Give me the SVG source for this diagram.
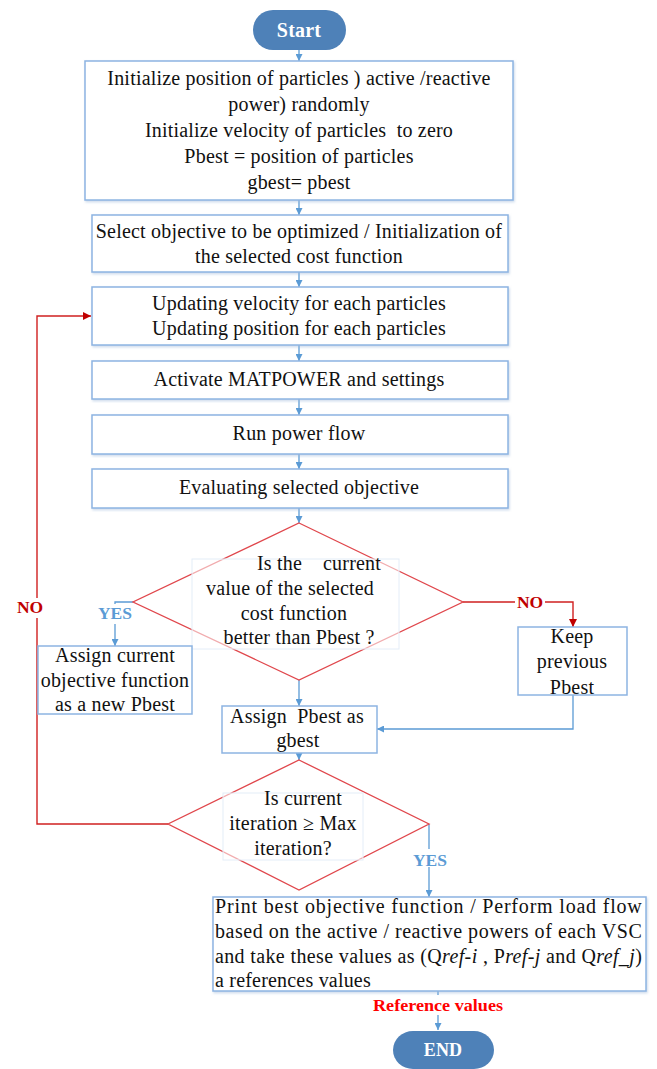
<svg xmlns="http://www.w3.org/2000/svg" width="657" height="1069" viewBox="0 0 657 1069">
<style>
text{font-family:"Liberation Serif","Times New Roman",serif;font-size:20px;fill:#111;letter-spacing:0.2px}
.c{text-anchor:middle}
.box{fill:#fff;stroke:#8DB4E2;stroke-width:1.5}
.tbox{fill:#fff;fill-opacity:0.55;stroke:#E4EDF8;stroke-width:1}
.dia{fill:#fff;stroke:#E0474C;stroke-width:1.3}
.term{fill:#4E81B8}
.tt{fill:#fff;font-weight:bold;font-size:20px}
.bl{fill:none;stroke:#5B9BD5;stroke-width:1.3}
.rd{fill:none;stroke:#D02020;stroke-width:1.4}
.lbY{fill:#5B9BD5;font-weight:bold;font-size:17.5px;letter-spacing:0}
.lbN{fill:#C00000;font-weight:bold;font-size:17.5px;letter-spacing:0}
.lbR{fill:#FF0000;font-weight:bold;font-size:17px;letter-spacing:0}
</style>
<defs>
<marker id="ab" viewBox="0 0 10 10" refX="10" refY="5" markerWidth="7" markerHeight="7" orient="auto" markerUnits="userSpaceOnUse"><path d="M0,0L10,5L0,10z" fill="#5B9BD5"/></marker>
<marker id="ar" viewBox="0 0 10 10" refX="10" refY="5" markerWidth="8" markerHeight="8" orient="auto" markerUnits="userSpaceOnUse"><path d="M0,0L10,5L0,10z" fill="#C00000"/></marker>
<filter id="sh" x="-5%" y="-5%" width="110%" height="115%"><feDropShadow dx="1" dy="1.5" stdDeviation="1.2" flood-color="#9DB8D8" flood-opacity="0.5"/></filter>
</defs>

<g id="connectors">
<line class="bl" x1="299" y1="50" x2="299" y2="61" marker-end="url(#ab)"/>
<line class="bl" x1="299" y1="200" x2="299" y2="215" marker-end="url(#ab)"/>
<line class="bl" x1="299" y1="272" x2="299" y2="287" marker-end="url(#ab)"/>
<line class="bl" x1="299" y1="345" x2="299" y2="361" marker-end="url(#ab)"/>
<line class="bl" x1="299" y1="399" x2="299" y2="415" marker-end="url(#ab)"/>
<line class="bl" x1="299" y1="454" x2="299" y2="469" marker-end="url(#ab)"/>
<line class="bl" x1="299" y1="508" x2="299" y2="523" marker-end="url(#ab)"/>
<line class="bl" x1="299" y1="680" x2="299" y2="706" marker-end="url(#ab)"/>
<line class="bl" x1="299" y1="753" x2="299" y2="760" marker-end="url(#ab)"/>
<polyline class="bl" points="133,602 115,602 115,646" marker-end="url(#ab)"/>
<polyline class="rd" points="463,602 573,602 573,627" marker-end="url(#ar)"/>
<polyline class="bl" points="573,695 573,729 377,729" marker-end="url(#ab)"/>
<polyline class="rd" points="168,824 37,824 37,316 91,316" marker-end="url(#ar)"/>
<polyline class="bl" points="429,824 429,897" marker-end="url(#ab)"/>
<line class="bl" x1="438" y1="991" x2="438" y2="1030" marker-end="url(#ab)"/>
<rect x="95" y="604" width="40" height="20" fill="#fff"/>
<text class="lbY c" x="115" y="619">YES</text>
<rect x="515" y="593" width="30" height="18" fill="#fff"/>
<text class="lbN c" x="530" y="608">NO</text>
<rect x="14" y="598" width="30" height="20" fill="#fff"/>
<text class="lbN c" x="30" y="613">NO</text>
<rect x="410" y="849" width="40" height="18" fill="#fff"/>
<text class="lbY c" x="430" y="866">YES</text>
<rect x="370" y="995" width="136" height="20" fill="#fff"/>
<text class="lbR c" x="438" y="1011" textLength="130" lengthAdjust="spacingAndGlyphs">Reference values</text>
</g>

<g id="start">
<rect class="term" x="253" y="10" width="93" height="40" rx="20" ry="20"/>
<text class="tt c" x="299" y="37">Start</text>
</g>

<g id="init">
<rect class="box" x="85" y="61" width="428" height="139" filter="url(#sh)"/>
<text class="c" x="299" y="85">Initialize position of particles ) active /reactive</text>
<text class="c" x="299" y="111">power) randomly</text>
<text class="c" x="299" y="137" xml:space="preserve">Initialize velocity of particles  to zero</text>
<text class="c" x="299" y="163">Pbest = position of particles</text>
<text class="c" x="299" y="189">gbest= pbest</text>
</g>

<g id="select">
<rect class="box" x="92" y="215" width="416" height="57" filter="url(#sh)"/>
<text class="c" x="299" y="238">Select objective to be optimized / Initialization of</text>
<text class="c" x="299" y="263">the selected cost function</text>
</g>

<g id="update">
<rect class="box" x="92" y="287" width="416" height="58" filter="url(#sh)"/>
<text class="c" x="299" y="310">Updating velocity for each particles</text>
<text class="c" x="299" y="335">Updating position for each particles</text>
</g>

<g id="matpower">
<rect class="box" x="92" y="361" width="416" height="38" filter="url(#sh)"/>
<text class="c" x="299" y="386">Activate MATPOWER and settings</text>
</g>

<g id="powerflow">
<rect class="box" x="92" y="415" width="416" height="39" filter="url(#sh)"/>
<text class="c" x="299" y="440">Run power flow</text>
</g>

<g id="evaluate">
<rect class="box" x="92" y="469" width="416" height="39" filter="url(#sh)"/>
<text class="c" x="299" y="494">Evaluating selected objective</text>
</g>

<g id="decision1">
<polygon class="dia" points="299,523 463,602 299,680 133,602"/>
<rect class="tbox" x="192" y="559" width="207" height="90"/>
<text x="257" y="570">Is the<tspan x="323">current</tspan></text>
<text class="c" x="290" y="595">value of the selected</text>
<text class="c" x="294" y="620">cost function</text>
<text class="c" x="299" y="644">better than Pbest ?</text>
</g>

<g id="assignPbest">
<rect class="box" x="38" y="646" width="154" height="68"/>
<text class="c" x="115" y="662">Assign current</text>
<text class="c" x="115" y="687">objective function</text>
<text class="c" x="115" y="711">as a new Pbest</text>
</g>

<g id="keep">
<rect class="box" x="518" y="627" width="109" height="68"/>
<text class="c" x="572" y="643">Keep</text>
<text class="c" x="572" y="668">previous</text>
<text class="c" x="572" y="694">Pbest</text>
</g>

<g id="assignGbest">
<rect class="box" x="222" y="706" width="155" height="47"/>
<text class="c" x="297" y="723" xml:space="preserve">Assign  Pbest as</text>
<text class="c" x="298" y="747">gbest</text>
</g>

<g id="decision2">
<polygon class="dia" points="299,760 429,824 299,890 168,824"/>
<rect class="tbox" x="223" y="793" width="140" height="67"/>
<text class="c" x="303" y="805">Is current</text>
<text class="c" x="293" y="830">iteration ≥ Max</text>
<text class="c" x="293" y="855">iteration?</text>
</g>

<g id="print">
<rect class="box" x="213" y="897" width="433" height="94" filter="url(#sh)"/>
<text x="215" y="913" textLength="427" lengthAdjust="spacing">Print best objective function  / Perform load flow</text>
<text x="215" y="938" textLength="427" lengthAdjust="spacing">based on the active / reactive powers of each VSC</text>
<text x="215" y="963" textLength="427" lengthAdjust="spacing">and take these values as (Q<tspan font-style="italic">ref-i</tspan> , P<tspan font-style="italic">ref-j</tspan> and Q<tspan font-style="italic">ref_j</tspan>)</text>
<text x="215" y="987">a references values</text>
</g>

<g id="end">
<rect class="term" x="393" y="1031" width="101" height="38" rx="20" ry="19"/>
<text class="tt c" x="443" y="1056" style="font-size:18px">END</text>
</g>
</svg>
